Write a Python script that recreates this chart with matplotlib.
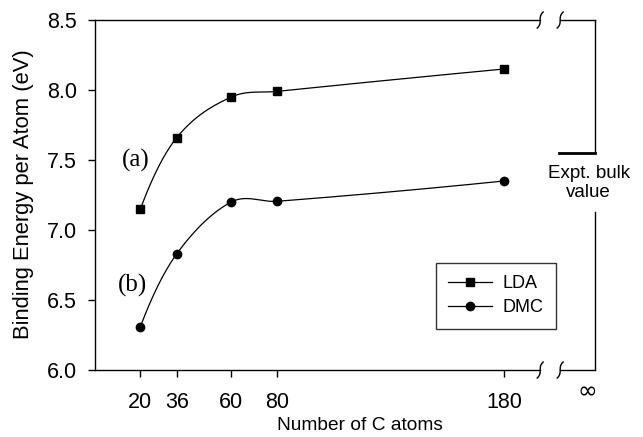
import numpy as np
import matplotlib
matplotlib.use('Agg')
import matplotlib.pyplot as plt

plt.rcParams['font.family'] = ['Liberation Sans', 'DejaVu Sans']

# data
n_atoms = [20, 36, 60, 80, 180]
lda = [7.15, 7.66, 7.95, 7.99, 8.15]
dmc = [6.31, 6.83, 7.20, 7.205, 7.35]
expt_bulk = 7.55
yticks = [6.0, 6.5, 7.0, 7.5, 8.0, 8.5]


def smooth_line(x, y, num=40):
    # cubic hermite through the points (catmull-rom style slopes),
    # only used for the smooth connecting line
    x = np.asarray(x, float)
    y = np.asarray(y, float)
    n = len(x)
    m = np.zeros(n)
    for i in range(1, n - 1):
        m[i] = (y[i + 1] - y[i - 1]) / (x[i + 1] - x[i - 1])
    m[0] = 2 * (y[1] - y[0]) / (x[1] - x[0]) - m[1]
    m[-1] = 2 * (y[-1] - y[-2]) / (x[-1] - x[-2]) - m[-2]
    xs_all, ys_all = [], []
    for i in range(n - 1):
        h = x[i + 1] - x[i]
        t = np.linspace(0, 1, num)
        h00 = 2 * t ** 3 - 3 * t ** 2 + 1
        h10 = t ** 3 - 2 * t ** 2 + t
        h01 = -2 * t ** 3 + 3 * t ** 2
        h11 = t ** 3 - t ** 2
        xs_all.append(x[i] + t * h)
        ys_all.append(h00 * y[i] + h10 * h * m[i] + h01 * y[i + 1] + h11 * h * m[i + 1])
    return np.concatenate(xs_all), np.concatenate(ys_all)


fig = plt.figure(figsize=(6.43, 4.37), dpi=100)
ax = fig.add_axes([0.1477, 0.1533, 0.7772, 0.8009])
ax.set_xlim(0, 220)
ax.set_ylim(6.0, 8.5)

for vals, mk, lab in [(lda, 's', 'LDA'), (dmc, 'o', 'DMC')]:
    xs, ys = smooth_line(n_atoms, vals)
    ax.plot(xs, ys, color='black', lw=0.9)
    ax.plot(n_atoms, vals, ls='none', marker=mk, ms=6, color='black')
    # legend proxy
    ax.plot([], [], color='black', lw=0.9, marker=mk, ms=6, label=lab)

# axis frame with breaks
for s in ['top', 'right', 'bottom']:
    ax.spines[s].set_visible(False)
ax.spines['left'].set_linewidth(1.0)
kw = dict(color='black', lw=1.0, clip_on=False)
brk1, brk2 = 196.0, 204.8
for yv in [6.0, 8.5]:
    ax.plot([0, brk1], [yv, yv], **kw)
    ax.plot([brk2, 220], [yv, yv], **kw)
    # little curly break marks
    t = np.linspace(-1, 1, 30)
    sx = 3.0 * t ** 3 / 499.7 * 220
    sy = 8.0 * t / 350 * 2.5
    for bx in [brk1, brk2]:
        ax.plot(bx + sx, yv + sy, **kw)

# right hand side: experimental bulk value
ax.plot([220, 220], [8.5, expt_bulk], **kw)
ax.plot([220, 220], [7.13, 6.0], **kw)
ax.plot([204.3, 220], [expt_bulk, expt_bulk], color='black', lw=2.0, clip_on=False)
ax.text(217.3, 7.335, 'Expt. bulk\nvalue', ha='center', va='center',
        fontsize=13.5, linespacing=1.1, clip_on=False)

ax.set_xticks(n_atoms)
ax.set_xticklabels([str(v) for v in n_atoms])
ax.set_yticks(yticks)
ax.set_yticklabels(['%.1f' % v for v in yticks])
ax.tick_params(axis='both', direction='out', length=5, width=1.0, labelsize=15.5)
ax.tick_params(axis='y', pad=8)
ax.tick_params(axis='x', pad=11)
ax.text(216.6, 5.85, '\u221e', ha='center', va='center', fontsize=17,
        family=['DejaVu Sans'], clip_on=False)

ax.set_xlabel('Number of C atoms', fontsize=13.8)
ax.xaxis.set_label_coords(0.53, -0.134)
ax.set_ylabel('Binding Energy per Atom (eV)', fontsize=15.8)
ax.yaxis.set_label_coords(-0.1227, 0.503)

ax.text(18, 7.5, '(a)', ha='center', va='center', fontsize=18, family='Liberation Serif')
ax.text(16.6, 6.607, '(b)', ha='center', va='center', fontsize=18, family='Liberation Serif')

leg = ax.legend(loc='lower right', bbox_to_anchor=(0.9226, 0.117), borderaxespad=0,
                fontsize=13, fancybox=False, handlelength=2.4, handletextpad=0.6,
                labelspacing=0.4, borderpad=0.7, edgecolor='#333333', framealpha=1)
leg.get_frame().set_linewidth(1.0)

fig.savefig('out.png', dpi=100)
